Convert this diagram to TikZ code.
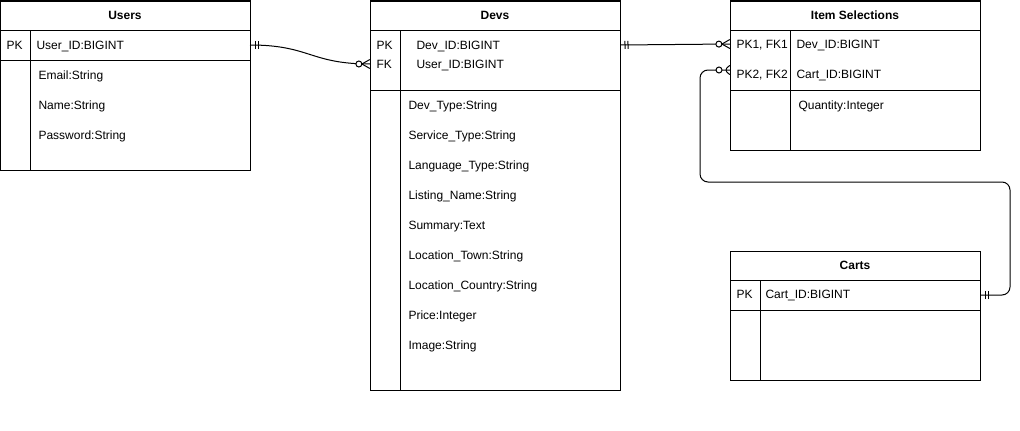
\documentclass[tikz,border=0pt]{standalone}
\usepackage{fontspec}
\setmainfont{Liberation Sans}
\usetikzlibrary{decorations.markings}

\begin{document}
\begin{tikzpicture}[x=1pt,y=-1pt,line width=1pt,
  title/.style={draw,anchor=north west,inner sep=0pt,outer sep=0pt,minimum height=29pt,font=\fontsize{12}{14}\selectfont\bfseries},
  box/.style={draw,anchor=north west,inner sep=0pt,outer sep=0pt},
  field/.style={anchor=west,inner sep=0pt,text height=8.6pt,text depth=0pt,font=\fontsize{12}{14}\selectfont},
  one start/.style={postaction={decorate,decoration={markings,
    mark=at position 0 with {\draw (5,-4) -- (5,4) (8,-4) -- (8,4);}}}},
  one end/.style={postaction={decorate,decoration={markings,
    mark=at position 0.999 with {\draw (-5,-4) -- (-5,4) (-8,-4) -- (-8,4);}}}},
  many start/.style={postaction={decorate,decoration={markings,
    mark=at position 0 with {\draw (0,-4.5) -- (8,0) -- (0,4.5); \draw[fill=white] (11,0) circle (3pt);}}}},
  many end/.style={postaction={decorate,decoration={markings,
    mark=at position 0.999 with {\draw (0,-4.5) -- (-8,0) -- (0,4.5); \draw[fill=white] (-11,0) circle (3pt);}}}}]
\useasboundingbox (0,0) rectangle (1020,431);

% Users
\node[title,minimum width=250pt] (users) at (0,1) {Users};
\node[box,minimum width=250pt,minimum height=30pt] (users key) at (users.south west) {};
\node[box,minimum width=250pt,minimum height=110pt] (users body) at (users key.south west) {};
\draw ([xshift=30pt]users key.north west) -- ([xshift=30pt]users body.south west);
\node[field] (users pk) at (6,45) {PK};
\node[field] (users id) at (36,45) {User\_ID:BIGINT};
\node[field] (users email) at (38,75) {Email:String};
\node[field] (users name) at (38,105) {Name:String};
\node[field] (users pass) at (38,135) {Password:String};

% Devs
\node[title,minimum width=250pt] (devs) at (370,1) {Devs};
\node[box,minimum width=250pt,minimum height=60pt] (devs key) at (devs.south west) {};
\node[box,minimum width=250pt,minimum height=300pt] (devs body) at (devs key.south west) {};
\draw ([xshift=30pt]devs key.north west) -- ([xshift=30pt]devs body.south west);
\node[field] (devs pk) at (376,45) {PK};
\node[field] (devs fk) at (376,64) {FK};
\node[field] (devs id) at (416,45) {Dev\_ID:BIGINT};
\node[field] (devs uid) at (416,64) {User\_ID:BIGINT};
\node[field] (devs a1) at (408,105) {Dev\_Type:String};
\node[field] (devs a2) at (408,135) {Service\_Type:String};
\node[field] (devs a3) at (408,165) {Language\_Type:String};
\node[field] (devs a4) at (408,195) {Listing\_Name:String};
\node[field] (devs a5) at (408,225) {Summary:Text};
\node[field] (devs a6) at (408,255) {Location\_Town:String};
\node[field] (devs a7) at (408,285) {Location\_Country:String};
\node[field] (devs a8) at (408,315) {Price:Integer};
\node[field] (devs a9) at (408,345) {Image:String};

% Item Selections
\node[title,minimum width=250pt] (items) at (730,1) {Item Selections};
\node[box,minimum width=250pt,minimum height=60pt] (items key) at (items.south west) {};
\node[box,minimum width=250pt,minimum height=60pt] (items body) at (items key.south west) {};
\draw ([xshift=60pt]items key.north west) -- ([xshift=60pt]items body.south west);
\node[field] (items pk1) at (736,44) {PK1, FK1};
\node[field] (items pk2) at (736,74) {PK2, FK2};
\node[field] (items dev) at (796,44) {Dev\_ID:BIGINT};
\node[field] (items cart) at (796,74) {Cart\_ID:BIGINT};
\node[field] (items qty) at (798,105) {Quantity:Integer};

% Carts
\node[title,minimum width=250pt] (carts) at (730,251) {Carts};
\node[box,minimum width=250pt,minimum height=30pt] (carts key) at (carts.south west) {};
\node[box,minimum width=250pt,minimum height=70pt] (carts body) at (carts key.south west) {};
\draw ([xshift=30pt]carts key.north west) -- ([xshift=30pt]carts body.south west);
\node[field] (carts pk) at (736,294) {PK};
\node[field] (carts id) at (765,294) {Cart\_ID:BIGINT};

% Relations
\draw[one start,many end] (users key.east) .. controls +(60,0) and +(-60,0) .. (devs key.west |- devs fk);
\draw[one start,many end] (devs key.east |- devs pk) -- (items key.west |- items pk1);
\draw[many start,one end,rounded corners=8pt] ([yshift=4pt]items key.west |- items pk2)
  -- ++(-30,0) -- ++(0,112) -- ++(310,0) |- (carts key.east);
\end{tikzpicture}
\end{document}
